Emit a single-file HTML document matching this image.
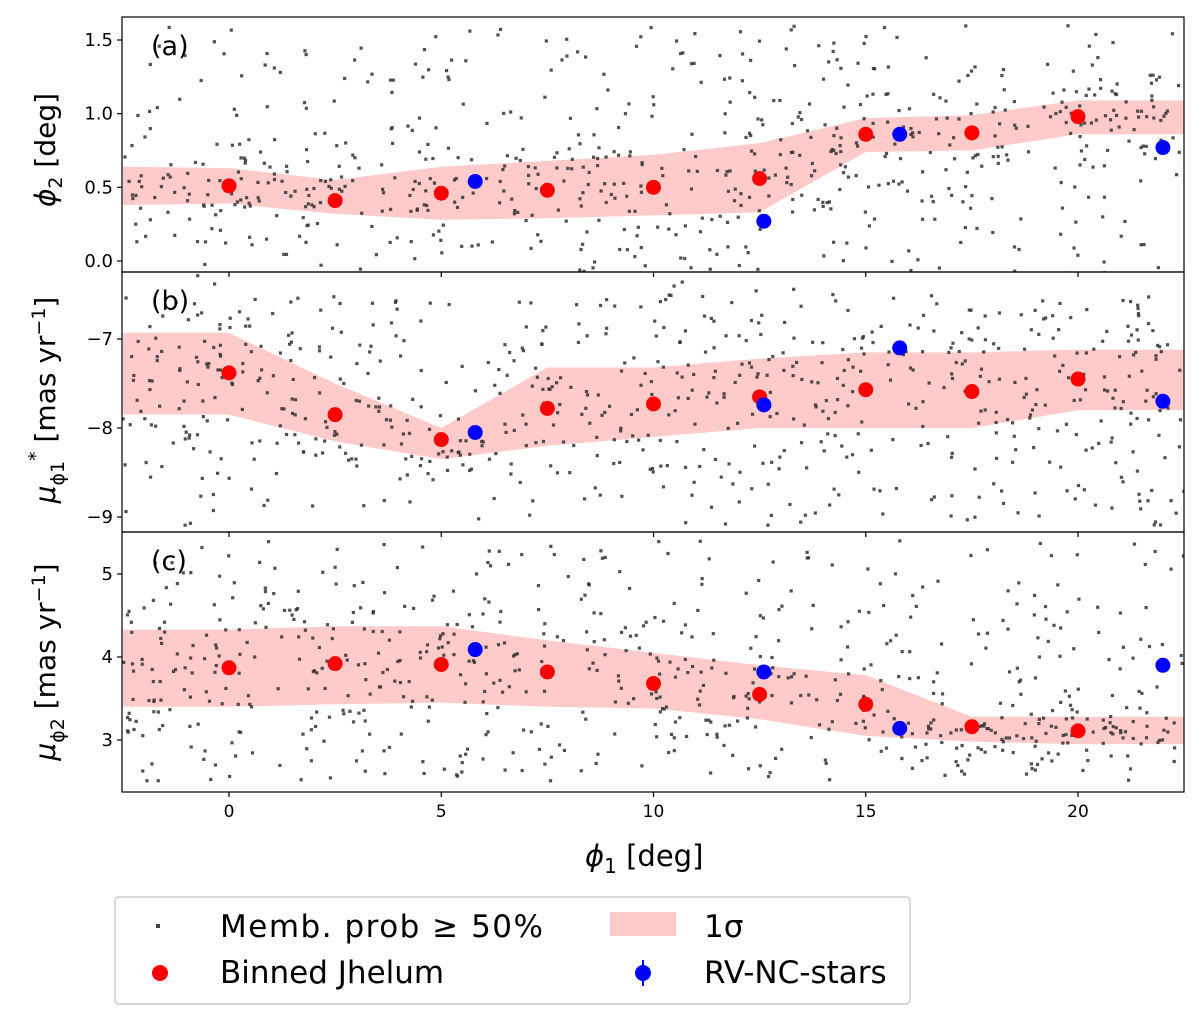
<!DOCTYPE html>
<html><head><meta charset="utf-8"><style>
body{margin:0;background:#fff;}
svg text{font-family:"DejaVu Sans","Liberation Sans",sans-serif;fill:#000;}
</style></head><body>
<svg id="chart" width="1200" height="1023" xmlns="http://www.w3.org/2000/svg">
<g id="plots"></g>
<g>
<rect x="115" y="897" width="795" height="107" rx="4" fill="#fff" stroke="#ccc" stroke-width="1.5"/>
<rect x="156" y="924" width="4" height="4" fill="#444"/>
<text x="220" y="937" font-size="31" textLength="323">Memb. prob ≥ 50%</text>
<rect x="610" y="912" width="66" height="24" fill="#ffb3b3" opacity="0.7"/>
<text x="704" y="937" font-size="31">1σ</text>
<circle cx="160" cy="973" r="8" fill="#ff0000"/>
<text x="220" y="983" font-size="31">Binned Jhelum</text>
<circle cx="643" cy="973" r="8" fill="#0000ff"/>
<line x1="643" y1="960" x2="643" y2="986" stroke="#0000ff" stroke-width="2"/>
<text x="704" y="983" font-size="31">RV-NC-stars</text>
</g>
<text x="585" y="866" font-size="29"><tspan font-style="italic">ϕ</tspan><tspan font-size="20" dy="7">1</tspan><tspan dy="-7"> [deg]</tspan></text>
</svg>
<script>
const binX=[0,2.5,5,7.5,10,12.5,15,17.5,20];
const rvX=[5.8,12.6,15.8,22];
const bandX=[-2.5,0,2.5,5,7.5,10,12.5,15,17.5,20,22.5];
const binA=[0.51,0.41,0.46,0.48,0.50,0.56,0.86,0.87,0.98];
const rvA=[0.54,0.27,0.86,0.77];
const bandUpA=[0.64,0.63,0.55,0.64,0.68,0.72,0.80,0.97,0.99,1.09,1.09];
const bandLoA=[0.38,0.39,0.32,0.28,0.29,0.31,0.33,0.74,0.75,0.86,0.86];
const binB=[-7.38,-7.85,-8.13,-7.78,-7.73,-7.65,-7.57,-7.59,-7.45];
const rvB=[-8.05,-7.74,-7.10,-7.70];
const bandUpB=[-6.93,-6.93,-7.5,-8.0,-7.32,-7.32,-7.22,-7.15,-7.15,-7.12,-7.12];
const bandLoB=[-7.85,-7.85,-8.15,-8.35,-8.2,-8.1,-8.0,-8.0,-8.0,-7.8,-7.8];
const binC=[3.87,3.92,3.91,3.82,3.68,3.55,3.43,3.16,3.11];
const rvC=[4.09,3.82,3.14,3.90];
const bandUpC=[4.33,4.33,4.37,4.37,4.2,4.05,3.9,3.78,3.28,3.28,3.28];
const bandLoC=[3.4,3.4,3.43,3.45,3.4,3.38,3.25,3.05,2.98,2.95,2.95];
const xTicks=[0,5,10,15,20];
const ticksA=[0.0,0.5,1.0,1.5];
const ticksB=[-9,-8,-7];
const ticksC=[3,4,5];
const NS="http://www.w3.org/2000/svg";
const L=122,R=1184;
const xs=v=>229+(v-0)*42.45;
const panels=[
 {id:'a',top:17,bot:272,y0:0,p0:261,y1:1.5,p1:40,bin:binA,rv:rvA,up:bandUpA,lo:bandLoA,ticks:ticksA,fmt:v=>v.toFixed(1),sLo:-0.1,sHi:1.6},
 {id:'b',top:272,bot:532,y0:-9,p0:517,y1:-7,p1:339,bin:binB,rv:rvB,up:bandUpB,lo:bandLoB,ticks:ticksB,fmt:v=>'−'+Math.abs(v),sLo:-9.1,sHi:-6.5},
 {id:'c',top:532,bot:792,y0:3,p0:740,y1:5,p1:574,bin:binC,rv:rvC,up:bandUpC,lo:bandLoC,ticks:ticksC,fmt:v=>''+v,sLo:2.5,sHi:5.4}
];
const g=document.getElementById('plots');
function mk(t,a,p){const e=document.createElementNS(NS,t);for(const k in a)e.setAttribute(k,a[k]);(p||g).appendChild(e);return e;}
let seed=12345;function rnd(){seed=(seed*1103515245+12345)%2147483648;return seed/2147483648;}
function interp(arr,x){for(let i=0;i<bandX.length-1;i++){if(x<=bandX[i+1]){const t=(x-bandX[i])/(bandX[i+1]-bandX[i]);return arr[i]+t*(arr[i+1]-arr[i]);}}return arr[arr.length-1];}
panels.forEach((P,pi)=>{
 const ys=v=>P.p0+(v-P.y0)*(P.p1-P.p0)/(P.y1-P.y0);
 const pg=mk('g',{});
 
 
 mk('clipPath',{id:'cl'+P.id},pg);
 mk('rect',{x:L,y:P.top,width:R-L,height:P.bot-P.top},pg.lastChild);
 const inner=mk('g',{'clip-path':'url(#cl'+P.id+')'},pg);
 let pts=bandX.map((x,i)=>xs(x)+','+ys(P.up[i]));
 pts=pts.concat(bandX.map((x,i)=>xs(x)+','+ys(P.lo[i])).reverse());
 const band=mk('polygon',{points:pts.join(' '),fill:'#ffb3b3',opacity:0.7},inner);
 
 
 for(let i=0;i<700;i++){
  const x=-2.5+rnd()*25;let y;
  if(i<380){y=P.sLo+rnd()*(P.sHi-P.sLo);}
  else{const c=(interp(P.up,x)+interp(P.lo,x))/2,w=(interp(P.up,x)-interp(P.lo,x));
   y=c+(rnd()+rnd()+rnd()-1.5)*w*1.3;}
  const d=mk('rect',{x:xs(x)-1.6,y:ys(y)-1.6,width:3.2,height:3.2,fill:'#333',opacity:0.85},inner);
  
  
 }
 P.bin.forEach((v,i)=>{const c=mk('circle',{cx:xs(binX[i]),cy:ys(v),r:7.5,fill:'#ff0000'},inner);
  
  });
 P.rv.forEach((v,i)=>{const c=mk('circle',{cx:xs(rvX[i]),cy:ys(v),r:7.5,fill:'#0000ff'},inner);
  
  });
 mk('rect',{x:L,y:P.top,width:R-L,height:P.bot-P.top,fill:'none',stroke:'#000','stroke-width':1.2},pg);
 P.ticks.forEach(t=>{const y=ys(t);mk('line',{x1:L-5,x2:L,y1:y,y2:y,stroke:'#000','stroke-width':1.2},pg);
  const tx=mk('text',{x:L-9,y:y+6,'font-size':18,'text-anchor':'end'},pg);tx.textContent=P.fmt(t);
  
  });
 const lab=mk('text',{x:151,y:P.top+38,'font-size':27},pg);lab.textContent='('+P.id+')';
 
 
 xTicks.forEach(t=>{const x=xs(t);mk('line',{x1:x,x2:x,y1:P.bot,y2:P.bot+5,stroke:'#000','stroke-width':1.2},pg);
  if(pi==2){const tx=mk('text',{x:x,y:P.bot+25,'font-size':17,'text-anchor':'middle'},pg);tx.textContent=t;
   
   }});
});
function ylab(cy,html,name){const t=mk('text',{transform:'translate(55,'+cy+') rotate(-90)','font-size':28,'text-anchor':'middle'});t.innerHTML=html;
 
 }
ylab(150,'<tspan font-style="italic">ϕ</tspan><tspan font-size="19" dy="7">2</tspan><tspan dy="-7"> [deg]</tspan>','y-axis-title-a');
ylab(400,'<tspan font-style="italic">μ</tspan><tspan font-size="19" dy="9">ϕ1</tspan><tspan font-size="19" dy="-22">*</tspan><tspan dy="13"> [mas yr</tspan><tspan font-size="19" dy="-10">−1</tspan><tspan dy="10">]</tspan>','y-axis-title-b');
ylab(662,'<tspan font-style="italic">μ</tspan><tspan font-size="19" dy="9">ϕ2</tspan><tspan dy="-9"> [mas yr</tspan><tspan font-size="19" dy="-10">−1</tspan><tspan dy="10">]</tspan>','y-axis-title-c');
</script>
</body></html>
